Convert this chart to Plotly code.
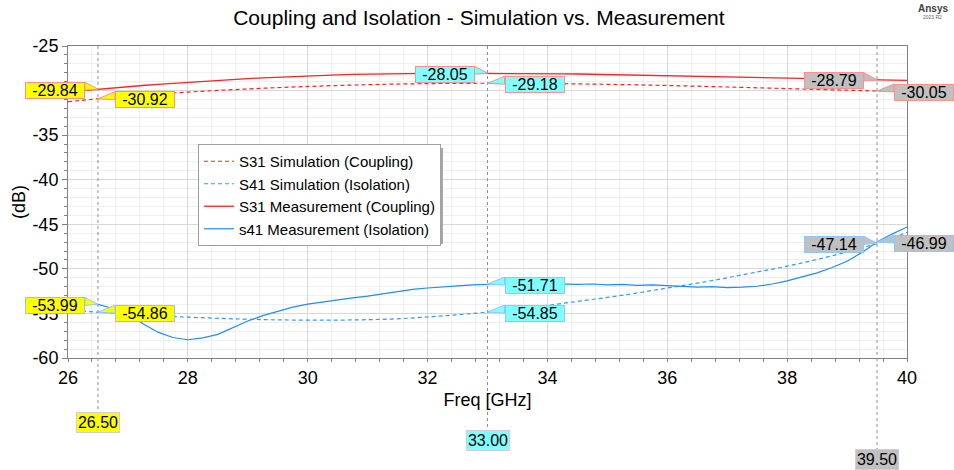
import plotly.graph_objects as go

# ---------------- data ----------------
freq_sim = [26.0, 26.5, 27.0, 27.5, 28.0, 28.5, 29.0, 29.5, 30.0, 30.5, 31.0, 31.5, 32.0, 32.5,
            33.0, 33.5, 34.0, 34.5, 35.0, 35.5, 36.0, 36.5, 37.0, 37.5, 38.0, 38.5, 39.0, 39.5, 40.0]
s31_sim = [-31.25, -30.92, -30.62, -30.38, -30.17, -29.98, -29.82, -29.67, -29.54, -29.43, -29.34,
           -29.27, -29.22, -29.19, -29.18, -29.19, -29.21, -29.25, -29.30, -29.36, -29.43, -29.51,
           -29.60, -29.69, -29.78, -29.87, -29.96, -30.05, -30.14]
s41_sim = [-54.65, -54.86, -55.05, -55.25, -55.42, -55.55, -55.65, -55.72, -55.75, -55.75, -55.70,
           -55.60, -55.40, -55.15, -54.85, -54.50, -54.10, -53.65, -53.20, -52.70, -52.15, -51.60,
           -51.00, -50.35, -49.70, -48.95, -48.10, -47.14, -45.90]

freq_meas = [26.00, 26.25, 26.50, 26.75, 27.00, 27.25, 27.50, 27.75, 28.00, 28.25, 28.50, 28.75,
             29.00, 29.25, 29.50, 29.75, 30.00, 30.25, 30.50, 30.75, 31.00, 31.25, 31.50, 31.75,
             32.00, 32.25, 32.50, 32.75, 33.00, 33.25, 33.50, 33.75, 34.00, 34.25, 34.50, 34.75,
             35.00, 35.25, 35.50, 35.75, 36.00, 36.25, 36.50, 36.75, 37.00, 37.25, 37.50, 37.75,
             38.00, 38.25, 38.50, 38.75, 39.00, 39.25, 39.50, 39.75, 40.00]
s31_meas = [-30.15, -29.99, -29.84, -29.70, -29.56, -29.43, -29.30, -29.18, -29.06, -28.95, -28.85,
            -28.75, -28.66, -28.57, -28.49, -28.42, -28.36, -28.30, -28.24, -28.19, -28.15, -28.12,
            -28.09, -28.07, -28.06, -28.05, -28.05, -28.05, -28.05, -28.06, -28.07, -28.08, -28.10,
            -28.12, -28.14, -28.17, -28.20, -28.23, -28.26, -28.29, -28.32, -28.36, -28.40, -28.44,
            -28.48, -28.52, -28.56, -28.60, -28.63, -28.67, -28.70, -28.73, -28.75, -28.77, -28.79,
            -28.82, -28.85]
s41_meas = [-53.85, -53.80, -53.99, -54.45, -55.00, -56.15, -57.10, -57.70, -57.95, -57.75, -57.35,
            -56.60, -55.85, -55.25, -54.75, -54.30, -53.95, -53.70, -53.45, -53.25, -53.05, -52.80,
            -52.55, -52.30, -52.15, -52.00, -51.90, -51.80, -51.71, -51.70, -51.65, -51.70, -51.65,
            -51.70, -51.75, -51.70, -51.80, -51.75, -51.85, -51.80, -51.90, -51.95, -52.05, -52.00,
            -52.10, -52.05, -51.95, -51.70, -51.35, -50.90, -50.45, -49.85, -49.15, -48.15, -46.99,
            -46.10, -45.30]

trace_names = ["S31 Simulation (Coupling)", "S41 Simulation (Isolation)",
               "S31 Measurement (Coupling)", "s41 Measurement (Isolation)"]

y_ticks = [-60, -55, -50, -45, -40, -35, -30, -25]
y_tick_labels = ["-60", "-55", "-50", "-45", "-40", "-35", "-30", "-25"]

marker_freqs = [26.5, 33.0, 39.5]
marker_texts = ["26.50", "33.00", "39.50"]
marker_fills = ["#FFFF00", "#80FFFF", "#C0C0C0"]

# marker readouts: (freq, value, text, side)
readouts = [
    (26.5, -29.84, "-29.84", "L", "#FFFF00", "#FF9090"),
    (26.5, -30.92, "-30.92", "R", "#FFFF00", "#FF9090"),
    (33.0, -28.05, "-28.05", "L", "#80FFFF", "#FF9090"),
    (33.0, -29.18, "-29.18", "R", "#80FFFF", "#FF9090"),
    (39.5, -28.79, "-28.79", "L", "#C0C0C0", "#FF9090"),
    (39.5, -30.05, "-30.05", "R", "#C0C0C0", "#FF9090"),
    (26.5, -53.99, "-53.99", "L", "#FFFF00", "#8CC8FF"),
    (26.5, -54.86, "-54.86", "R", "#FFFF00", "#8CC8FF"),
    (33.0, -51.71, "-51.71", "R", "#80FFFF", "#8CC8FF"),
    (33.0, -54.85, "-54.85", "R", "#80FFFF", "#8CC8FF"),
    (39.5, -47.14, "-47.14", "L", "#C0C0C0", "#8CC8FF"),
    (39.5, -46.99, "-46.99", "R", "#C0C0C0", "#8CC8FF"),
]

RED = "#FF2020"
BLUE = "#1E8CFF"

fig = go.Figure()
fig.add_trace(go.Scatter(x=freq_sim, y=s31_sim, mode="lines", name=trace_names[0],
                         line=dict(color=RED, width=1.2, dash="4px,3px", shape="spline")))
fig.add_trace(go.Scatter(x=freq_sim, y=s41_sim, mode="lines", name=trace_names[1],
                         line=dict(color="#3399FF", width=1.2, dash="4px,3px", shape="spline")))
fig.add_trace(go.Scatter(x=freq_meas, y=s31_meas, mode="lines", name=trace_names[2],
                         line=dict(color=RED, width=1.3)))
fig.add_trace(go.Scatter(x=freq_meas, y=s41_meas, mode="lines", name=trace_names[3],
                         line=dict(color=BLUE, width=1.2)))

shapes = []
annotations = []

# vertical marker lines and bottom labels
marker_bottoms = [-0.176, -0.231, -0.292]
marker_centers = [-0.208, -0.266, -0.324]
for f, t, c, yb, yc in zip(marker_freqs, marker_texts, marker_fills, marker_bottoms, marker_centers):
    shapes.append(dict(type="line", xref="x", yref="paper", x0=f, x1=f, y0=1, y1=yb,
                       line=dict(color="#909090", width=1, dash="dot"), layer="above"))
    annotations.append(dict(x=f, y=yc, xref="x", yref="paper", text=t, showarrow=False,
                            xanchor="center", yanchor="middle", bgcolor=c,
                            bordercolor="#D0D0D0", borderwidth=1, borderpad=1,
                            width=40, height=17,
                            font=dict(family="Liberation Sans Narrow, Arial Narrow, Arial", size=16,
                                      color="#000")))

# readout callouts
for f, v, t, side, fill, border in readouts:
    if side == "L":
        edge = -13
        anchor = "right"
    else:
        edge = 17
        anchor = "left"
    annotations.append(dict(x=f, y=v, xref="x", yref="y", text=t, showarrow=False,
                            xanchor=anchor, yanchor="middle", xshift=edge, yshift=-1,
                            bgcolor=fill, bordercolor=border, borderwidth=1, borderpad=0,
                            width=58, height=15,
                            font=dict(family="Arial", size=16, color="#000")))
    path = f"M {edge},7 L 0,0 L {edge},-1 Z"
    shapes.append(dict(type="path", xref="x", yref="y", xsizemode="pixel", ysizemode="pixel",
                       xanchor=f, yanchor=v, path=path, fillcolor=fill,
                       line=dict(color=border, width=1), layer="above"))

# legend shadow
LEG_L, LEG_T, LEG_R, LEG_B = 198, 144, 440, 241
shapes.append(dict(type="rect", xref="paper", yref="paper",
                   x0=(LEG_L + 4 - 68) / 839, x1=(LEG_R + 3 - 68) / 839,
                   y0=(358 - (LEG_B + 3)) / 312, y1=(358 - (LEG_T + 4)) / 312,
                   fillcolor="#A8A8A8", line=dict(width=0), layer="above"))

annotations.append(dict(x=(950 - 68) / 839, y=(358 - 1) / 312, xref="paper", yref="paper",
                        text="<b>Ansys</b>", showarrow=False, xanchor="right", yanchor="top",
                        font=dict(family="Arial", size=10, color="#404040")))
annotations.append(dict(x=(944 - 68) / 839, y=(358 - 12) / 312, xref="paper", yref="paper",
                        text="2023 R2", showarrow=False, xanchor="right", yanchor="top",
                        font=dict(family="Arial", size=5, color="#606060")))

axis_common = dict(showline=True, linecolor="#808080", linewidth=1, mirror=True,
                   ticks="outside", tickcolor="#808080",
                   showgrid=True, gridcolor="#D8D8D8", gridwidth=1, zeroline=False,
                   tickfont=dict(family="Arial", size=18, color="#000"))

fig.update_layout(
    width=954, height=470,
    margin=dict(l=68, r=47, t=46, b=112),
    paper_bgcolor="white", plot_bgcolor="white",
    title=dict(text="Coupling and Isolation - Simulation vs. Measurement",
               x=0.502, xref="container", y=0.962, yref="container", xanchor="center", yanchor="middle",
               font=dict(family="Arial", size=21, color="#000")),
    xaxis=dict(range=[26, 40], tick0=26, dtick=2, ticklen=3,
               title=dict(text="Freq [GHz]", standoff=6, font=dict(family="Arial", size=18, color="#000")),
               minor=dict(dtick=0.4, showgrid=True, gridcolor="#EFEFEF", ticks="outside", ticklen=3,
                          tickcolor="#808080"),
               **axis_common),
    yaxis=dict(range=[-60, -25], tickvals=y_ticks, ticktext=y_tick_labels, ticklen=5,
               title=dict(text="(dB)", standoff=2, font=dict(family="Arial", size=18, color="#000")),
               minor=dict(dtick=1, showgrid=True, gridcolor="#EFEFEF", ticks="outside", ticklen=3,
                          tickcolor="#808080"),
               **axis_common),
    legend=dict(x=(LEG_L - 68) / 839, y=(358 - LEG_T) / 312, xanchor="left", yanchor="top",
                bgcolor="white", bordercolor="#A0A0A0", borderwidth=1,
                font=dict(family="Arial", size=15, color="#000"), tracegroupgap=0,
                itemwidth=30),
    shapes=shapes,
    annotations=annotations,
    showlegend=True,
)

fig.write_html("out.html")
